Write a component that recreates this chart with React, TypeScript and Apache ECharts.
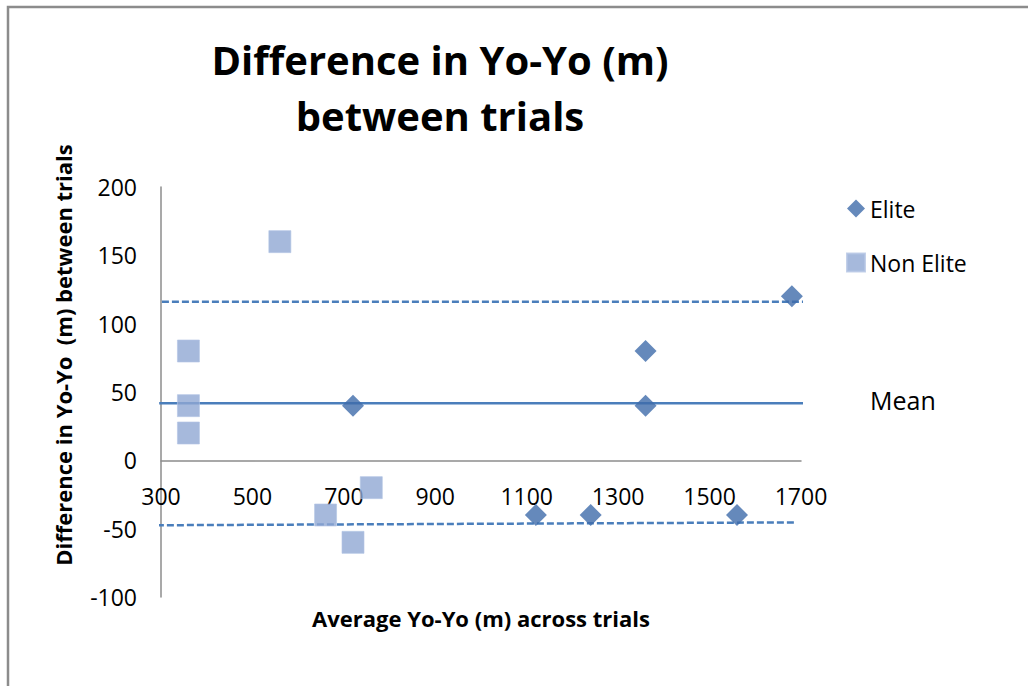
import React, { useEffect, useRef } from "react";
import * as echarts from "echarts";

const titleLines = ["Difference in Yo-Yo (m)", "between trials"];
const xAxisTitle = "Average Yo-Yo (m) across trials";
const yAxisTitle = "Difference in Yo-Yo  (m) between trials";

const eliteX = [720, 1120, 1240, 1360, 1360, 1560, 1680];
const eliteY = [40, -40, -40, 80, 40, -40, 120];
const nonEliteX = [360, 360, 360, 560, 660, 720, 760];
const nonEliteY = [80, 40, 20, 160, -40, -60, -20];

const meanLineX = [296, 1715];
const meanLineY = [41.7, 41.7];
const upperLineX = [302, 1713];
const upperLineY = [116, 116];
const lowerLineX = [291, 1687];
const lowerLineY = [-47.5, -45.4];

const xTickLabels = [300, 500, 700, 900, 1100, 1300, 1500, 1700];
const yMin = -100;
const yMax = 200;

const FONT = "'Open Sans'";

export default function App() {
  const ref = useRef<HTMLDivElement>(null);
  useEffect(() => {
    if (!ref.current) return;
    const chart = echarts.init(ref.current, null, { renderer: "svg" });
    const zip = (xs: number[], ys: number[]) => xs.map((x, i) => [x, ys[i]]);
    const gridTop = 187;
    const gridBottom = 89;
    const gridH = 686 - gridTop - gridBottom;
    // lift the x axis so that it crosses the y axis at 0
    const xOffset = -(gridH * (0 - yMin)) / (yMax - yMin);
    chart.setOption({
      animation: false,
      backgroundColor: "#ffffff",
      textStyle: { fontFamily: FONT },
      title: {
        text: titleLines.join("\n"),
        left: 435,
        top: 26,
        textAlign: "center",
        textStyle: {
          fontFamily: FONT,
          fontSize: 40,
          fontWeight: "bold",
          color: "#000",
          lineHeight: 56,
        },
      },
      legend: {
        orient: "vertical",
        left: 846,
        top: 197,
        padding: 0,
        itemWidth: 18,
        itemHeight: 18,
        itemGap: 31,
        textStyle: { fontFamily: FONT, fontSize: 23, color: "#000" },
        data: [
          { name: "Elite", icon: "diamond" },
          { name: "Non Elite", icon: "rect" },
        ],
      },
      grid: { left: 161, right: 227, top: gridTop, bottom: gridBottom },
      xAxis: {
        type: "value",
        min: 300,
        max: 1700,
        interval: 100,
        position: "bottom",
        offset: xOffset,
        axisLine: { onZero: false, lineStyle: { color: "#8c8c8c", width: 1.5 } },
        axisTick: { show: false },
        splitLine: { show: false },
        axisLabel: {
          margin: 24,
          fontFamily: FONT,
          fontSize: 23,
          color: "#000",
          formatter: (v: number) => (xTickLabels.includes(v) ? String(v) : ""),
        },
      },
      yAxis: {
        type: "value",
        min: yMin,
        max: yMax,
        interval: 50,
        axisLine: { show: true, lineStyle: { color: "#8c8c8c", width: 1.5 } },
        axisTick: { show: false },
        splitLine: { show: false },
        axisLabel: { margin: 24, fontFamily: FONT, fontSize: 23, color: "#000" },
      },
      graphic: [
        {
          type: "rect",
          shape: { x: 8, y: 7, width: 1060, height: 720 },
          style: { fill: "none", stroke: "#8c8c8c", lineWidth: 2.5 },
          silent: true,
          z: 100,
        },
        {
          type: "text",
          x: 870,
          y: 400,
          style: {
            text: "Mean",
            font: `25px ${FONT}`,
            fill: "#000",
            textVerticalAlign: "middle",
          },
        },
        {
          type: "text",
          x: 481,
          y: 618,
          style: {
            text: xAxisTitle,
            font: `bold 22px ${FONT}`,
            fill: "#000",
            textAlign: "center",
            textVerticalAlign: "middle",
          },
        },
        {
          type: "text",
          x: 63,
          y: 355,
          rotation: Math.PI / 2,
          style: {
            text: yAxisTitle,
            font: `bold 22px ${FONT}`,
            fill: "#000",
            textAlign: "center",
            textVerticalAlign: "middle",
          },
        },
      ],
      series: [
        {
          name: "Mean",
          type: "line",
          data: zip(meanLineX, meanLineY),
          symbol: "none",
          clip: false,
          silent: true,
          lineStyle: { color: "#4a7ebb", width: 2.5 },
          z: 1,
        },
        {
          name: "Upper",
          type: "line",
          data: zip(upperLineX, upperLineY),
          symbol: "none",
          clip: false,
          silent: true,
          lineStyle: { color: "#4a7ebb", width: 2.5, type: [7, 3] },
          z: 1,
        },
        {
          name: "Lower",
          type: "line",
          data: zip(lowerLineX, lowerLineY),
          symbol: "none",
          clip: false,
          silent: true,
          lineStyle: { color: "#4a7ebb", width: 2.5, type: [7, 3] },
          z: 1,
        },
        {
          name: "Elite",
          type: "scatter",
          data: zip(eliteX, eliteY),
          symbol: "diamond",
          symbolSize: 22,
          itemStyle: { color: "#3f6caa" },
          z: 3,
        },
        {
          name: "Non Elite",
          type: "scatter",
          data: zip(nonEliteX, nonEliteY),
          symbol: "rect",
          symbolSize: 22,
          itemStyle: { color: "#90a7d3", borderColor: "#b4c4e4", borderWidth: 0.8 },
          z: 2,
        },
      ],
    });
    return () => chart.dispose();
  }, []);
  return (
    <div
      ref={ref}
      style={{ position: "fixed", left: 0, top: 0, width: 1028, height: 686 }}
    />
  );
}
